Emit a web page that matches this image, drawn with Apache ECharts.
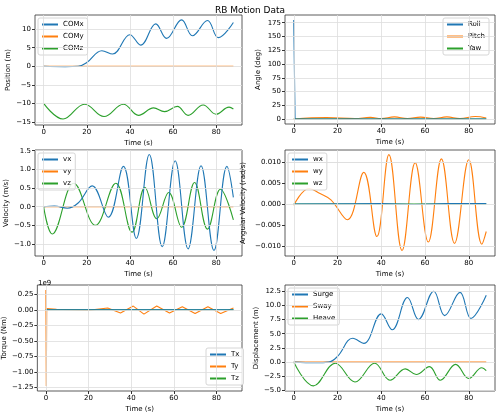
<!DOCTYPE html><html><head><meta charset="utf-8">
<script src="https://cdn.jsdelivr.net/npm/echarts@6/dist/echarts.min.js"></script>
<style>body{margin:0}#c{width:500px;height:414px}</style></head><body><div id="c"></div>
<script>
// Data (key points; time in s)
const comx=[[0,0],[10,-0.1],[16,0],[20,1],[27,4.2],[32,3.3],[40,8.5],[45,5.7],[52,11.4],[57,7.5],[64,12.5],[69,8.2],[76,12.3],[81,7.7],[88,11.8]];
const comy=[[0,0],[88,0]];
const comz=[[0,-10],[9,-14.2],[19,-10.2],[28,-13.5],[37,-10.2],[44,-13.2],[51,-11.2],[56,-12.2],[62,-10.8],[67,-13.2],[74,-10.4],[80,-12.9],[86,-11.0],[88,-11.5]];
const roll=[[0,180],[0.5,180],[0.6,0],[88,0]];
const pitch=[[0,0],[15,2.5],[28,1],[35,3],[40,1],[46,4],[52,1],[58,3.5],[64,1],[70,4],[76,1],[83,4.5],[88,2]];
const yaw=[[0,0],[88,0]];
const vx=[[0,0],[5,0.02],[11,-0.04],[16,0.1],[22.5,0.56],[30,-0.28],[37,1.08],[43,-0.85],[49,1.4],[55,-1.07],[61,1.23],[67,-1.13],[73,1.1],[79,-1.17],[85,1.08],[88,0.25]];
const vy=[[0,0],[88,0]];
const vz=[[0,0],[4,-0.73],[14,0.63],[24,-0.5],[33.5,0.63],[41,-0.68],[47,0.52],[52.5,-0.32],[58,0.38],[64,-0.55],[70,0.65],[76,-0.6],[82,0.47],[88,-0.35]];
const wx=[[0,0],[40,0.0001],[55,-0.0001],[70,0.0001],[88,0.0001]];
const wy=[[0,-0.0003],[7,0.0037],[12,0.0025],[17,0.001],[24.5,-0.0037],[32,0.0075],[38,-0.0077],[43.5,0.0117],[49.5,-0.011],[55.5,0.0098],[61.5,-0.009],[67.5,0.0107],[73.5,-0.0093],[80,0.0105],[86,-0.0095],[88,-0.0065]];
const wz=[[0,0],[88,0]];
const tx=[[0,0],[88,0]];
const ty=[[0,0.32],[0.2,-1.23],[0.4,0.02],[5,0.01],[20,-0.01],[29,0.03],[35,-0.05],[41,0.06],[46,-0.07],[52,0.06],[58,-0.05],[64,0.05],[70,-0.06],[76,0.05],[82,-0.06],[88,0.03]];
const tz=[[0,0],[88,0]];
const surge=[[0,0],[10,-0.1],[16,0],[20,1],[27,4.2],[32,3.3],[40,8.5],[45,5.7],[52,11.4],[57,7.5],[64,12.5],[69,8.2],[76,12.3],[81,7.7],[88,11.8]];
const sway=[[0,0],[88,0]];
const heave=[[0,0],[9,-4.2],[19,-0.2],[28,-3.5],[37,-0.2],[44,-3.2],[51,-1.2],[56,-2.2],[62,-0.8],[67,-3.2],[74,-0.4],[80,-2.9],[86,-1.0],[88,-1.5]];
const xTicks=[0,20,40,60,80];

const C=['#1f77b4','#ff7f0e','#2ca02c'];
const grids=[[35,15,242,125],[285,15,495,124],[35,150,242,256],[285,150,495,256],[35,285,242,391],[285,285,495,391]];
const panels=[
 {y:'Position (m)',min:-15.8,max:13.8,ticks:[-15,-10,-5,0,5,10],d:0,names:['COMx','COMy','COMz'],data:[comx,comy,comz],leg:'tl'},
 {y:'Angle (deg)',min:-9,max:189,ticks:[0,25,50,75,100,125,150,175],d:0,names:['Roll','Pitch','Yaw'],data:[roll,pitch,yaw],leg:'tr',sharp:[true,false,false]},
 {y:'Velocity (m/s)',min:-1.32,max:1.52,ticks:[-1,-0.5,0,0.5,1,1.5],d:1,names:['vx','vy','vz'],data:[vx,vy,vz],leg:'tl'},
 {y:'Angular Velocity (rad/s)',min:-0.0123,max:0.0128,ticks:[-0.01,-0.005,0,0.005,0.01],d:3,names:['wx','wy','wz'],data:[wx,wy,wz],leg:'tl'},
 {y:'Torque (Nm)',min:-1.31,max:0.4,ticks:[-1.25,-1,-0.75,-0.5,-0.25,0,0.25],d:2,names:['Tx','Ty','Tz'],data:[tx,ty,tz],leg:'br',sharp:[false,true,false]},
 {y:'Displacement (m)',min:-5.1,max:13.6,ticks:[-5,-2.5,0,2.5,5,7.5,10,12.5],d:1,names:['Surge','Sway','Heave'],data:[surge,sway,heave],leg:'tl'}
];
const fmt=(v,d)=>{const s=Math.abs(v).toFixed(d);return (v<-1e-12?'\u2212':'')+s;};
const opt={animation:false,backgroundColor:'#fff',textStyle:{fontFamily:'DejaVu Sans'},
 title:[{text:'RB Motion Data',left:'center',top:1,textStyle:{fontSize:9,fontWeight:'normal',color:'#000',fontFamily:'DejaVu Sans'}},
        {text:'1e9',left:33,top:275,textStyle:{fontSize:7,fontWeight:'normal',color:'#000',fontFamily:'DejaVu Sans'}}],
 grid:[],xAxis:[],yAxis:[],series:[],legend:[]};
panels.forEach((p,i)=>{
 const g=grids[i];
 opt.grid.push({left:g[0],top:g[1],width:g[2]-g[0],height:g[3]-g[1],show:true,borderColor:'#333',borderWidth:0.8,backgroundColor:'transparent'});
 opt.xAxis.push({type:'value',gridIndex:i,min:-4,max:92,name:'Time (s)',nameLocation:'middle',nameGap:15,nameTextStyle:{fontSize:7,color:'#000'},
  axisLine:{show:false,onZero:false},axisTick:{show:true,length:3,customValues:xTicks,lineStyle:{color:'#333'}},
  axisLabel:{fontSize:7,color:'#000',margin:4,customValues:xTicks},splitLine:{show:false}});
 opt.yAxis.push({type:'value',gridIndex:i,min:p.min,max:p.max,name:p.y,nameLocation:'middle',nameGap:i==3?38:(i==4?27:23),nameTextStyle:{fontSize:7,color:'#000'},
  axisLine:{show:false,onZero:false},axisTick:{show:true,length:3,customValues:p.ticks,lineStyle:{color:'#333'}},
  axisLabel:{fontSize:7,color:'#000',margin:4,customValues:p.ticks,formatter:v=>fmt(v,p.d)},splitLine:{show:false}});
 // gridlines at the tick values
 opt.series.push({type:'line',xAxisIndex:i,yAxisIndex:i,data:[],silent:true,z:1,
  markLine:{silent:true,symbol:'none',label:{show:false},animation:false,lineStyle:{color:'#ddd',width:0.8,type:'solid'},
   data:xTicks.map(v=>({xAxis:v})).concat(p.ticks.map(v=>({yAxis:v})))}});
 p.names.forEach((n,k)=>{
  opt.series.push({type:'line',name:n,xAxisIndex:i,yAxisIndex:i,data:p.data[k],showSymbol:false,smooth:!(p.sharp&&p.sharp[k])?0.4:false,
   lineStyle:{color:C[k],width:1.1},itemStyle:{color:C[k]},z:k==0?4:3});
 });
 const L={data:p.names,orient:'vertical',itemWidth:16,itemHeight:2,icon:'rect',itemGap:5,textStyle:{fontSize:7,color:'#000'},
  backgroundColor:'rgba(255,255,255,0.85)',borderColor:'#ccc',borderWidth:0.8,borderRadius:2,padding:[3,4]};
 if(p.leg=='tl'){L.left=g[0]+3;L.top=g[1]+3;}
 if(p.leg=='tr'){L.left=g[2]-52;L.top=g[1]+3;}
 if(p.leg=='br'){L.left=g[2]-36;L.top=g[3]-43;}
 opt.legend.push(L);
});
echarts.init(document.getElementById('c')).setOption(opt);
</script></body></html>
